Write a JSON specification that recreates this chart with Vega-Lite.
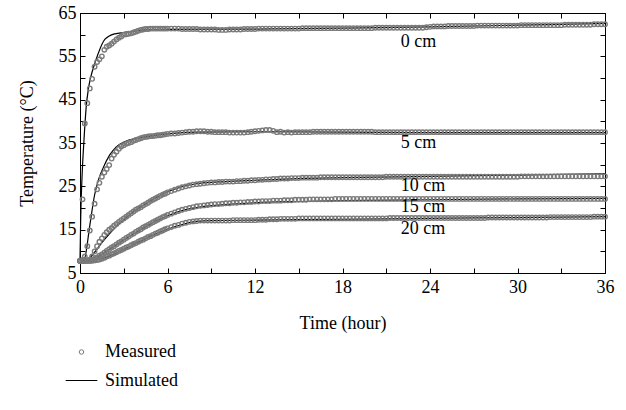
{
"$schema":"https://vega.github.io/schema/vega-lite/v6.json",
"width":525,"height":260,
"autosize":{"type":"none"},
"padding":{"left":80,"top":13,"right":21,"bottom":137},
"config":{"view":{"stroke":"black","strokeWidth":1},"font":"Liberation Serif",
"axis":{"grid":false,"domainColor":"black","tickColor":"black","labelColor":"black","titleColor":"black","labelFont":"Liberation Serif","titleFont":"Liberation Serif","labelFontSize":18,"titleFontSize":18,"titleFontWeight":"normal","tickSize":-5,"labelFlush":false,"labelOverlap":false}},
"datasets":{
"measured":[
{"t":0,"d0":7.8,"d5":7.8,"d10":7.8,"d15":7.8,"d20":7.8},
{"t":0.17,"d0":22,"d5":8.0,"d10":7.8,"d15":7.8,"d20":7.8},
{"t":0.33,"d0":39.5,"d5":8.8,"d10":7.8,"d15":7.8,"d20":7.8},
{"t":0.5,"d0":44.2,"d5":11.2,"d10":7.9,"d15":7.8,"d20":7.8},
{"t":0.67,"d0":47.6,"d5":14.8,"d10":8.1,"d15":7.8,"d20":7.8},
{"t":0.83,"d0":49.8,"d5":18.0,"d10":8.8,"d15":8.0,"d20":7.8},
{"t":1.0,"d0":52.6,"d5":21.0,"d10":10.0,"d15":8.3,"d20":7.9},
{"t":1.17,"d0":53.7,"d5":24.3,"d10":11.2,"d15":8.6,"d20":8.0},
{"t":1.33,"d0":54.3,"d5":25.8,"d10":12.2,"d15":9.0,"d20":8.1},
{"t":1.5,"d0":55.0,"d5":27.2,"d10":13.0,"d15":9.3,"d20":8.3},
{"t":1.67,"d0":56.5,"d5":28.2,"d10":13.8,"d15":9.7,"d20":8.5},
{"t":1.83,"d0":57.2,"d5":29.0,"d10":14.4,"d15":10.1,"d20":8.8},
{"t":2.0,"d0":57.5,"d5":29.9,"d10":15.0,"d15":10.5,"d20":9.0},
{"t":2.17,"d0":57.9,"d5":31.4,"d10":15.4,"d15":10.9,"d20":9.3},
{"t":2.33,"d0":58.4,"d5":32.3,"d10":15.9,"d15":11.2,"d20":9.5},
{"t":2.5,"d0":58.9,"d5":33.0,"d10":16.3,"d15":11.6,"d20":9.8},
{"t":2.67,"d0":59.3,"d5":33.7,"d10":16.8,"d15":12.0,"d20":10.1},
{"t":2.83,"d0":59.6,"d5":34.2,"d10":17.2,"d15":12.3,"d20":10.3},
{"t":3.0,"d0":60.0,"d5":34.5,"d10":17.6,"d15":12.7,"d20":10.6},
{"t":3.17,"d0":60.1,"d5":34.8,"d10":18.0,"d15":13.1,"d20":10.9},
{"t":3.33,"d0":60.2,"d5":35.0,"d10":18.4,"d15":13.4,"d20":11.1},
{"t":3.5,"d0":60.3,"d5":35.2,"d10":18.8,"d15":13.8,"d20":11.4},
{"t":3.67,"d0":60.5,"d5":35.5,"d10":19.2,"d15":14.1,"d20":11.7},
{"t":3.83,"d0":60.7,"d5":35.7,"d10":19.6,"d15":14.5,"d20":11.9},
{"t":4.0,"d0":60.9,"d5":35.9,"d10":19.9,"d15":14.8,"d20":12.2},
{"t":4.17,"d0":61.1,"d5":36.1,"d10":20.2,"d15":15.1,"d20":12.5},
{"t":4.33,"d0":61.2,"d5":36.3,"d10":20.6,"d15":15.5,"d20":12.7},
{"t":4.5,"d0":61.3,"d5":36.4,"d10":20.9,"d15":15.8,"d20":13.0},
{"t":4.67,"d0":61.3,"d5":36.5,"d10":21.2,"d15":16.1,"d20":13.3},
{"t":4.83,"d0":61.4,"d5":36.6,"d10":21.6,"d15":16.4,"d20":13.5},
{"t":5.0,"d0":61.4,"d5":36.6,"d10":21.9,"d15":16.7,"d20":13.8},
{"t":5.17,"d0":61.4,"d5":36.7,"d10":22.2,"d15":17.0,"d20":14.1},
{"t":5.33,"d0":61.4,"d5":36.8,"d10":22.5,"d15":17.3,"d20":14.3},
{"t":5.5,"d0":61.4,"d5":36.8,"d10":22.8,"d15":17.6,"d20":14.6},
{"t":5.67,"d0":61.4,"d5":36.9,"d10":23.1,"d15":17.9,"d20":14.8},
{"t":5.83,"d0":61.4,"d5":37.0,"d10":23.3,"d15":18.1,"d20":15.1},
{"t":6.0,"d0":61.4,"d5":37.1,"d10":23.6,"d15":18.4,"d20":15.3},
{"t":6.25,"d0":61.4,"d5":37.2,"d10":23.9,"d15":18.7,"d20":15.6},
{"t":6.5,"d0":61.4,"d5":37.2,"d10":24.2,"d15":19.0,"d20":15.9},
{"t":6.75,"d0":61.4,"d5":37.3,"d10":24.5,"d15":19.3,"d20":16.1},
{"t":7,"d0":61.3,"d5":37.4,"d10":24.8,"d15":19.6,"d20":16.4},
{"t":7.25,"d0":61.3,"d5":37.5,"d10":25.0,"d15":19.8,"d20":16.6},
{"t":7.5,"d0":61.3,"d5":37.6,"d10":25.2,"d15":20.0,"d20":16.8},
{"t":7.75,"d0":61.3,"d5":37.6,"d10":25.4,"d15":20.2,"d20":16.9},
{"t":8,"d0":61.3,"d5":37.7,"d10":25.5,"d15":20.4,"d20":17.0},
{"t":8.25,"d0":61.2,"d5":37.7,"d10":25.6,"d15":20.5,"d20":17.1},
{"t":8.5,"d0":61.2,"d5":37.7,"d10":25.7,"d15":20.6,"d20":17.1},
{"t":8.75,"d0":61.2,"d5":37.6,"d10":25.8,"d15":20.7,"d20":17.1},
{"t":9,"d0":61.2,"d5":37.6,"d10":25.9,"d15":20.8,"d20":17.1},
{"t":9.25,"d0":61.2,"d5":37.5,"d10":25.9,"d15":20.9,"d20":17.1},
{"t":9.5,"d0":61.1,"d5":37.5,"d10":26.0,"d15":20.9,"d20":17.1},
{"t":9.75,"d0":61.1,"d5":37.5,"d10":26.0,"d15":21.0,"d20":17.1},
{"t":10,"d0":61.1,"d5":37.5,"d10":26.1,"d15":21.1,"d20":17.1},
{"t":10.25,"d0":61.2,"d5":37.4,"d10":26.1,"d15":21.1,"d20":17.1},
{"t":10.5,"d0":61.2,"d5":37.4,"d10":26.1,"d15":21.2,"d20":17.2},
{"t":10.75,"d0":61.2,"d5":37.4,"d10":26.2,"d15":21.2,"d20":17.2},
{"t":11,"d0":61.2,"d5":37.4,"d10":26.2,"d15":21.3,"d20":17.2},
{"t":11.25,"d0":61.3,"d5":37.4,"d10":26.3,"d15":21.3,"d20":17.2},
{"t":11.5,"d0":61.3,"d5":37.5,"d10":26.3,"d15":21.4,"d20":17.2},
{"t":11.75,"d0":61.3,"d5":37.6,"d10":26.4,"d15":21.4,"d20":17.2},
{"t":12,"d0":61.3,"d5":37.7,"d10":26.4,"d15":21.5,"d20":17.2},
{"t":12.25,"d0":61.4,"d5":37.8,"d10":26.5,"d15":21.5,"d20":17.3},
{"t":12.5,"d0":61.4,"d5":37.9,"d10":26.5,"d15":21.6,"d20":17.3},
{"t":12.75,"d0":61.4,"d5":38.0,"d10":26.6,"d15":21.6,"d20":17.3},
{"t":13,"d0":61.4,"d5":38.0,"d10":26.6,"d15":21.6,"d20":17.4},
{"t":13.25,"d0":61.4,"d5":37.8,"d10":26.7,"d15":21.7,"d20":17.4},
{"t":13.5,"d0":61.4,"d5":37.5,"d10":26.7,"d15":21.7,"d20":17.4},
{"t":13.75,"d0":61.4,"d5":37.6,"d10":26.8,"d15":21.7,"d20":17.5},
{"t":14,"d0":61.4,"d5":37.4,"d10":26.8,"d15":21.8,"d20":17.5},
{"t":14.25,"d0":61.4,"d5":37.5,"d10":26.8,"d15":21.8,"d20":17.5},
{"t":14.5,"d0":61.4,"d5":37.4,"d10":26.9,"d15":21.8,"d20":17.5},
{"t":14.75,"d0":61.4,"d5":37.5,"d10":26.9,"d15":21.9,"d20":17.5},
{"t":15,"d0":61.4,"d5":37.5,"d10":26.9,"d15":21.9,"d20":17.6},
{"t":15.25,"d0":61.5,"d5":37.5,"d10":27.0,"d15":21.9,"d20":17.6},
{"t":15.5,"d0":61.5,"d5":37.5,"d10":27.0,"d15":21.9,"d20":17.6},
{"t":15.75,"d0":61.5,"d5":37.5,"d10":27.0,"d15":22.0,"d20":17.6},
{"t":16,"d0":61.5,"d5":37.6,"d10":27.0,"d15":22.0,"d20":17.6},
{"t":16.25,"d0":61.5,"d5":37.6,"d10":27.0,"d15":22.0,"d20":17.6},
{"t":16.5,"d0":61.5,"d5":37.6,"d10":27.1,"d15":22.0,"d20":17.6},
{"t":16.75,"d0":61.5,"d5":37.6,"d10":27.1,"d15":22.0,"d20":17.6},
{"t":17,"d0":61.5,"d5":37.6,"d10":27.1,"d15":22.0,"d20":17.6},
{"t":17.25,"d0":61.5,"d5":37.6,"d10":27.1,"d15":22.0,"d20":17.6},
{"t":17.5,"d0":61.5,"d5":37.6,"d10":27.1,"d15":22.1,"d20":17.6},
{"t":17.75,"d0":61.5,"d5":37.6,"d10":27.1,"d15":22.1,"d20":17.6},
{"t":18,"d0":61.5,"d5":37.6,"d10":27.1,"d15":22.1,"d20":17.6},
{"t":18.25,"d0":61.5,"d5":37.6,"d10":27.1,"d15":22.1,"d20":17.6},
{"t":18.5,"d0":61.5,"d5":37.6,"d10":27.1,"d15":22.1,"d20":17.6},
{"t":18.75,"d0":61.5,"d5":37.6,"d10":27.1,"d15":22.1,"d20":17.6},
{"t":19,"d0":61.5,"d5":37.6,"d10":27.1,"d15":22.1,"d20":17.6},
{"t":19.25,"d0":61.5,"d5":37.6,"d10":27.1,"d15":22.1,"d20":17.6},
{"t":19.5,"d0":61.5,"d5":37.6,"d10":27.1,"d15":22.1,"d20":17.6},
{"t":19.75,"d0":61.5,"d5":37.6,"d10":27.1,"d15":22.1,"d20":17.6},
{"t":20,"d0":61.5,"d5":37.6,"d10":27.1,"d15":22.1,"d20":17.6},
{"t":20.25,"d0":61.6,"d5":37.5,"d10":27.1,"d15":22.1,"d20":17.6},
{"t":20.5,"d0":61.6,"d5":37.5,"d10":27.1,"d15":22.1,"d20":17.6},
{"t":20.75,"d0":61.6,"d5":37.5,"d10":27.1,"d15":22.1,"d20":17.6},
{"t":21,"d0":61.6,"d5":37.5,"d10":27.2,"d15":22.1,"d20":17.6},
{"t":21.25,"d0":61.6,"d5":37.5,"d10":27.2,"d15":22.1,"d20":17.7},
{"t":21.5,"d0":61.6,"d5":37.5,"d10":27.2,"d15":22.1,"d20":17.7},
{"t":21.75,"d0":61.6,"d5":37.5,"d10":27.2,"d15":22.1,"d20":17.7},
{"t":22,"d0":61.6,"d5":37.5,"d10":27.2,"d15":22.1,"d20":17.7},
{"t":22.25,"d0":61.6,"d5":37.5,"d10":27.2,"d15":22.1,"d20":17.7},
{"t":22.5,"d0":61.6,"d5":37.5,"d10":27.2,"d15":22.1,"d20":17.7},
{"t":22.75,"d0":61.6,"d5":37.5,"d10":27.2,"d15":22.1,"d20":17.7},
{"t":23,"d0":61.6,"d5":37.5,"d10":27.2,"d15":22.1,"d20":17.7},
{"t":23.25,"d0":61.6,"d5":37.5,"d10":27.2,"d15":22.1,"d20":17.7},
{"t":23.5,"d0":61.6,"d5":37.5,"d10":27.2,"d15":22.1,"d20":17.7},
{"t":23.75,"d0":61.7,"d5":37.5,"d10":27.2,"d15":22.1,"d20":17.7},
{"t":24,"d0":61.8,"d5":37.5,"d10":27.2,"d15":22.1,"d20":17.7},
{"t":24.25,"d0":61.9,"d5":37.5,"d10":27.2,"d15":22.1,"d20":17.7},
{"t":24.5,"d0":61.9,"d5":37.5,"d10":27.2,"d15":22.1,"d20":17.7},
{"t":24.75,"d0":61.9,"d5":37.5,"d10":27.2,"d15":22.1,"d20":17.7},
{"t":25,"d0":61.9,"d5":37.5,"d10":27.2,"d15":22.1,"d20":17.7},
{"t":25.25,"d0":62.0,"d5":37.5,"d10":27.2,"d15":22.1,"d20":17.7},
{"t":25.5,"d0":62.0,"d5":37.5,"d10":27.2,"d15":22.1,"d20":17.7},
{"t":25.75,"d0":62.0,"d5":37.5,"d10":27.2,"d15":22.1,"d20":17.7},
{"t":26,"d0":62.0,"d5":37.5,"d10":27.2,"d15":22.1,"d20":17.7},
{"t":26.25,"d0":62.0,"d5":37.5,"d10":27.2,"d15":22.1,"d20":17.7},
{"t":26.5,"d0":62.0,"d5":37.5,"d10":27.2,"d15":22.1,"d20":17.7},
{"t":26.75,"d0":62.0,"d5":37.5,"d10":27.2,"d15":22.1,"d20":17.7},
{"t":27,"d0":62.0,"d5":37.5,"d10":27.2,"d15":22.1,"d20":17.7},
{"t":27.25,"d0":62.1,"d5":37.5,"d10":27.2,"d15":22.1,"d20":17.7},
{"t":27.5,"d0":62.1,"d5":37.5,"d10":27.2,"d15":22.1,"d20":17.7},
{"t":27.75,"d0":62.1,"d5":37.5,"d10":27.2,"d15":22.1,"d20":17.7},
{"t":28,"d0":62.1,"d5":37.5,"d10":27.2,"d15":22.1,"d20":17.8},
{"t":28.25,"d0":62.1,"d5":37.5,"d10":27.2,"d15":22.1,"d20":17.8},
{"t":28.5,"d0":62.1,"d5":37.5,"d10":27.2,"d15":22.1,"d20":17.8},
{"t":28.75,"d0":62.1,"d5":37.5,"d10":27.2,"d15":22.1,"d20":17.8},
{"t":29,"d0":62.1,"d5":37.5,"d10":27.2,"d15":22.1,"d20":17.8},
{"t":29.25,"d0":62.1,"d5":37.5,"d10":27.2,"d15":22.1,"d20":17.8},
{"t":29.5,"d0":62.1,"d5":37.5,"d10":27.2,"d15":22.1,"d20":17.8},
{"t":29.75,"d0":62.1,"d5":37.5,"d10":27.2,"d15":22.1,"d20":17.8},
{"t":30,"d0":62.1,"d5":37.5,"d10":27.2,"d15":22.1,"d20":17.8},
{"t":30.25,"d0":62.2,"d5":37.5,"d10":27.3,"d15":22.1,"d20":17.8},
{"t":30.5,"d0":62.2,"d5":37.5,"d10":27.3,"d15":22.1,"d20":17.8},
{"t":30.75,"d0":62.2,"d5":37.5,"d10":27.3,"d15":22.1,"d20":17.8},
{"t":31,"d0":62.2,"d5":37.5,"d10":27.3,"d15":22.1,"d20":17.8},
{"t":31.25,"d0":62.2,"d5":37.5,"d10":27.3,"d15":22.1,"d20":17.8},
{"t":31.5,"d0":62.2,"d5":37.5,"d10":27.3,"d15":22.1,"d20":17.8},
{"t":31.75,"d0":62.2,"d5":37.5,"d10":27.3,"d15":22.1,"d20":17.8},
{"t":32,"d0":62.2,"d5":37.5,"d10":27.3,"d15":22.1,"d20":17.8},
{"t":32.25,"d0":62.2,"d5":37.5,"d10":27.3,"d15":22.1,"d20":17.9},
{"t":32.5,"d0":62.2,"d5":37.5,"d10":27.3,"d15":22.1,"d20":17.9},
{"t":32.75,"d0":62.2,"d5":37.5,"d10":27.3,"d15":22.1,"d20":17.9},
{"t":33,"d0":62.2,"d5":37.5,"d10":27.3,"d15":22.1,"d20":17.9},
{"t":33.25,"d0":62.3,"d5":37.5,"d10":27.3,"d15":22.1,"d20":17.9},
{"t":33.5,"d0":62.3,"d5":37.5,"d10":27.3,"d15":22.1,"d20":17.9},
{"t":33.75,"d0":62.3,"d5":37.5,"d10":27.3,"d15":22.1,"d20":17.9},
{"t":34,"d0":62.3,"d5":37.5,"d10":27.3,"d15":22.1,"d20":17.9},
{"t":34.25,"d0":62.3,"d5":37.5,"d10":27.3,"d15":22.1,"d20":17.9},
{"t":34.5,"d0":62.3,"d5":37.5,"d10":27.3,"d15":22.1,"d20":17.9},
{"t":34.75,"d0":62.3,"d5":37.5,"d10":27.3,"d15":22.1,"d20":17.9},
{"t":35,"d0":62.3,"d5":37.5,"d10":27.3,"d15":22.1,"d20":17.9},
{"t":35.25,"d0":62.4,"d5":37.5,"d10":27.3,"d15":22.1,"d20":18.0},
{"t":35.5,"d0":62.4,"d5":37.5,"d10":27.3,"d15":22.1,"d20":18.0},
{"t":35.75,"d0":62.4,"d5":37.5,"d10":27.3,"d15":22.1,"d20":18.0},
{"t":36,"d0":62.4,"d5":37.5,"d10":27.3,"d15":22.1,"d20":18.0}
],
"simulated":[
{"t":0,"v":8,"depth":"0 cm"},{"t":0.05,"v":18,"depth":"0 cm"},{"t":0.15,"v":28,"depth":"0 cm"},{"t":0.27,"v":35.5,"depth":"0 cm"},{"t":0.43,"v":43.5,"depth":"0 cm"},{"t":0.6,"v":48,"depth":"0 cm"},{"t":0.9,"v":52.2,"depth":"0 cm"},{"t":1.2,"v":55.2,"depth":"0 cm"},{"t":1.7,"v":58.9,"depth":"0 cm"},{"t":2.4,"v":60.2,"depth":"0 cm"},{"t":3,"v":60.5,"depth":"0 cm"},{"t":3.5,"v":60.7,"depth":"0 cm"},{"t":4.5,"v":61.1,"depth":"0 cm"},{"t":6,"v":61.2,"depth":"0 cm"},{"t":12,"v":61.3,"depth":"0 cm"},{"t":18,"v":61.5,"depth":"0 cm"},{"t":24,"v":61.8,"depth":"0 cm"},{"t":30,"v":62.2,"depth":"0 cm"},{"t":36,"v":62.6,"depth":"0 cm"},
{"t":0,"v":8,"depth":"5 cm"},{"t":0.3,"v":8.3,"depth":"5 cm"},{"t":0.66,"v":15.7,"depth":"5 cm"},{"t":1.0,"v":23,"depth":"5 cm"},{"t":1.23,"v":26.1,"depth":"5 cm"},{"t":1.58,"v":29.2,"depth":"5 cm"},{"t":2.03,"v":32.2,"depth":"5 cm"},{"t":2.49,"v":34.1,"depth":"5 cm"},{"t":3.06,"v":35.3,"depth":"5 cm"},{"t":4,"v":36.1,"depth":"5 cm"},{"t":5,"v":36.7,"depth":"5 cm"},{"t":6,"v":37.1,"depth":"5 cm"},{"t":8,"v":37.5,"depth":"5 cm"},{"t":12,"v":37.6,"depth":"5 cm"},{"t":18,"v":37.5,"depth":"5 cm"},{"t":24,"v":37.4,"depth":"5 cm"},{"t":36,"v":37.4,"depth":"5 cm"},
{"t":0,"v":8,"depth":"10 cm"},{"t":0.5,"v":8.1,"depth":"10 cm"},{"t":1,"v":9.8,"depth":"10 cm"},{"t":1.5,"v":12,"depth":"10 cm"},{"t":2,"v":14,"depth":"10 cm"},{"t":2.5,"v":15.8,"depth":"10 cm"},{"t":3,"v":17.3,"depth":"10 cm"},{"t":3.5,"v":18.7,"depth":"10 cm"},{"t":4,"v":19.9,"depth":"10 cm"},{"t":4.5,"v":21,"depth":"10 cm"},{"t":5,"v":22,"depth":"10 cm"},{"t":5.5,"v":22.9,"depth":"10 cm"},{"t":6,"v":23.7,"depth":"10 cm"},{"t":7,"v":24.9,"depth":"10 cm"},{"t":8,"v":25.6,"depth":"10 cm"},{"t":10,"v":26.1,"depth":"10 cm"},{"t":12,"v":26.4,"depth":"10 cm"},{"t":15,"v":26.8,"depth":"10 cm"},{"t":18,"v":27.0,"depth":"10 cm"},{"t":24,"v":27.3,"depth":"10 cm"},{"t":30,"v":27.6,"depth":"10 cm"},{"t":36,"v":27.9,"depth":"10 cm"},
{"t":0,"v":8,"depth":"15 cm"},{"t":0.7,"v":8,"depth":"15 cm"},{"t":1,"v":8.4,"depth":"15 cm"},{"t":2,"v":10.4,"depth":"15 cm"},{"t":3,"v":12.6,"depth":"15 cm"},{"t":4,"v":14.7,"depth":"15 cm"},{"t":5,"v":16.6,"depth":"15 cm"},{"t":6,"v":18.2,"depth":"15 cm"},{"t":7,"v":19.4,"depth":"15 cm"},{"t":8,"v":20.1,"depth":"15 cm"},{"t":10,"v":20.8,"depth":"15 cm"},{"t":12,"v":21.2,"depth":"15 cm"},{"t":15,"v":21.5,"depth":"15 cm"},{"t":18,"v":21.7,"depth":"15 cm"},{"t":24,"v":21.9,"depth":"15 cm"},{"t":30,"v":22.1,"depth":"15 cm"},{"t":36,"v":22.2,"depth":"15 cm"},
{"t":0,"v":8,"depth":"20 cm"},{"t":1,"v":8,"depth":"20 cm"},{"t":2,"v":8.9,"depth":"20 cm"},{"t":3,"v":10.4,"depth":"20 cm"},{"t":4,"v":12.1,"depth":"20 cm"},{"t":5,"v":13.7,"depth":"20 cm"},{"t":6,"v":15.1,"depth":"20 cm"},{"t":7,"v":16.2,"depth":"20 cm"},{"t":8,"v":16.9,"depth":"20 cm"},{"t":9,"v":17.1,"depth":"20 cm"},{"t":12,"v":17.2,"depth":"20 cm"},{"t":18,"v":17.4,"depth":"20 cm"},{"t":24,"v":17.6,"depth":"20 cm"},{"t":30,"v":17.8,"depth":"20 cm"},{"t":36,"v":18.0,"depth":"20 cm"}
],
"labels":[
{"t":22,"v":58.4,"label":"0 cm"},
{"t":22,"v":34.9,"label":"5 cm"},
{"t":22,"v":25.1,"label":"10 cm"},
{"t":22,"v":20.2,"label":"15 cm"},
{"t":22,"v":15.1,"label":"20 cm"}
]
},
"resolve":{"axis":{"x":"independent","y":"independent"}},
"layer":[
{"data":{"name":"simulated"},
 "mark":{"type":"line","strokeWidth":1.2,"interpolate":"monotone"},
 "encoding":{
  "x":{"field":"t","type":"quantitative","scale":{"domain":[0,36],"nice":false,"zero":false},
   "axis":{"orient":"top","values":[0,3,6,9,12,15,18,21,24,27,30,33,36],"labels":false,"title":null}},
  "y":{"field":"v","type":"quantitative","scale":{"domain":[5,65],"nice":false,"zero":false},
   "axis":{"orient":"right","values":[5,10,15,20,25,30,35,40,45,50,55,60,65],"labels":false,"title":null}},
  "detail":{"field":"depth"},
  "stroke":{"datum":"Simulated","type":"nominal"}
 }},
{"data":{"name":"measured"},
 "transform":[{"fold":["d0","d5","d10","d15","d20"],"as":["depth","temp"]}],
 "mark":{"type":"point","filled":false,"strokeWidth":1.4,"opacity":1},
 "encoding":{
  "x":{"field":"t","type":"quantitative","scale":{"domain":[0,36],"nice":false,"zero":false},
   "axis":{"orient":"bottom","values":[0,3,6,9,12,15,18,21,24,27,30,33,36],"labelExpr":"datum.value % 6 == 0 ? datum.label : ''","labelPadding":10,"title":"Time (hour)","titlePadding":18}},
  "y":{"field":"temp","type":"quantitative","scale":{"domain":[5,65],"nice":false,"zero":false},
   "axis":{"orient":"left","values":[5,10,15,20,25,30,35,40,45,50,55,60,65],"labelExpr":"(datum.value - 5) % 10 == 0 ? datum.label : ''","labelPadding":9,"title":"Temperature (°C)","titlePadding":22}},
  "detail":{"field":"depth"},
  "shape":{"datum":"Measured","type":"nominal","scale":{"domain":["Measured","Simulated"],"range":["circle","stroke"]},
   "legend":{"title":null,"orient":"none","legendX":-15,"legendY":330,"direction":"vertical","labelFont":"Liberation Serif","labelFontSize":18,"labelColor":"black","symbolStrokeWidth":1,"labelOffset":7,"rowPadding":3}},
  "stroke":{"datum":"Measured","type":"nominal","scale":{"domain":["Measured","Simulated"],"range":["#7a7a7a","black"]},
   "legend":{"title":null,"orient":"none","legendX":-15,"legendY":330,"direction":"vertical","labelFont":"Liberation Serif","labelFontSize":18,"labelColor":"black","symbolStrokeWidth":1,"labelOffset":7,"rowPadding":3}},
  "size":{"datum":"Measured","type":"nominal","scale":{"domain":["Measured","Simulated"],"range":[20,1000]},
   "legend":{"title":null,"orient":"none","legendX":-15,"legendY":330,"direction":"vertical","labelFont":"Liberation Serif","labelFontSize":18,"labelColor":"black","symbolStrokeWidth":1,"labelOffset":7,"rowPadding":3}}
 }},
{"data":{"name":"labels"},
 "mark":{"type":"text","align":"left","baseline":"middle","font":"Liberation Serif","fontSize":18,"color":"black"},
 "encoding":{
  "x":{"field":"t","type":"quantitative","axis":null},
  "y":{"field":"v","type":"quantitative","axis":null},
  "text":{"field":"label"}
 }}
]
}
